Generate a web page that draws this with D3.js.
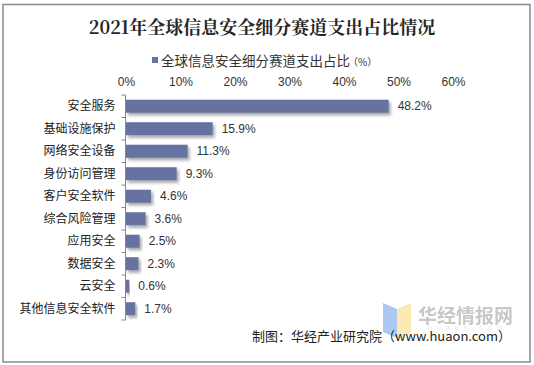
<!DOCTYPE html>
<html><head><meta charset="utf-8">
<script src="https://cdn.jsdelivr.net/npm/d3@7"></script>
<style>body{margin:0;background:#fff;}svg{display:block;}</style>
</head><body>
<script>
const categories = ["安全服务","基础设施保护","网络安全设备","身份访问管理","客户安全软件","综合风险管理","应用安全","数据安全","云安全","其他信息安全软件"];
const values = [48.2,15.9,11.3,9.3,4.6,3.6,2.5,2.3,0.6,1.7];
const tickValues = [0,10,20,30,40,50,60];
const titleText = "2021年全球信息安全细分赛道支出占比情况";
const legendText = "全球信息安全细分赛道支出占比";
const sourceText = "制图：华经产业研究院（www.huaon.com）";

const W = 534, H = 365;
const svg = d3.select("body").append("svg").attr("width", W).attr("height", H);
const defs = svg.append("defs");
const f = defs.append("filter").attr("id","sh").attr("x","-10%").attr("y","-30%").attr("width","130%").attr("height","190%");
f.append("feDropShadow").attr("dx",2).attr("dy",2.5).attr("stdDeviation",1.6).attr("flood-color","#000").attr("flood-opacity",0.35);

svg.append("rect").attr("x",3).attr("y",4.5).attr("width",527).attr("height",357.5)
  .attr("fill","#fff").attr("stroke","#8a8a8a").attr("stroke-width",1.5);

svg.append("text").attr("x",262).attr("y",34).attr("text-anchor","middle")
  .attr("font-family","'Noto Serif CJK SC','DejaVu Serif','Noto Sans CJK SC',serif").attr("font-weight","bold")
  .attr("font-size",18).attr("fill","#262626").text(titleText);

// legend
svg.append("rect").attr("x",152).attr("y",57).attr("width",6).attr("height",6).attr("fill","#6673a0");
const lg = svg.append("text").attr("x",161).attr("y",66).attr("font-family","'Noto Sans CJK SC',sans-serif")
  .attr("font-size",13.5).attr("fill","#333");
lg.append("tspan").text(legendText);
lg.append("tspan").attr("font-size",10).attr("dx",-2).text("（%）");

const x = d3.scaleLinear().domain([0,60]).range([126,453]);
const y = d3.scaleBand().domain(categories).range([95,320]).paddingInner(0.42).paddingOuter(0.21);

// top axis labels
const xa = svg.append("g").attr("transform","translate(0,89)")
  .call(d3.axisTop(x).tickValues(tickValues).tickFormat(d=>d+"%").tickSize(0));
xa.select(".domain").remove();
xa.selectAll("text").attr("font-family","'Liberation Sans',Arial,sans-serif").attr("font-size",12).attr("fill","#333");

// bars
svg.append("g").selectAll("rect").data(values).join("rect")
  .attr("x",x(0)).attr("y",(d,i)=>y(categories[i]))
  .attr("width",d=>x(d)-x(0)).attr("height",y.bandwidth())
  .attr("fill","#6673a0").attr("filter","url(#sh)");

// y axis
const ya = svg.append("g").attr("transform",`translate(${x(0)-0.5},0)`)
  .call(d3.axisLeft(y).tickSize(0).tickPadding(10));
ya.select(".domain").attr("stroke","#888").attr("d",`M0,95V320`);
ya.selectAll("text").attr("font-family","'Noto Sans CJK SC',sans-serif").attr("font-size",12).attr("fill","#222");
const bounds = d3.range(categories.length+1).map(i=>95 + i*y.step());
ya.selectAll("line.b").data(bounds).join("line").attr("class","b")
  .attr("x1",-4).attr("x2",0).attr("y1",d=>d).attr("y2",d=>d).attr("stroke","#888");

// value labels
svg.append("g").selectAll("text").data(values).join("text")
  .attr("x",d=>x(d)+9).attr("y",(d,i)=>y(categories[i])+y.bandwidth()/2).attr("dy","0.35em")
  .attr("font-family","'Liberation Sans',Arial,sans-serif").attr("font-size",12).attr("fill","#333")
  .text(d=>d.toFixed(1)+"%");

// watermark logo
const wm = svg.append("g").attr("opacity",0.75);
wm.append("path").attr("d","M383,303 L397,309 L397,338 L383,332 Z").attr("fill","#8fb6ee");
wm.append("path").attr("d","M397,309 L411,303 L411,332 L397,338 Z").attr("fill","#fbe39a");
wm.append("text").attr("x",418).attr("y",323).attr("font-family","'Noto Sans CJK SC',sans-serif").attr("font-weight","bold")
  .attr("font-size",19).attr("fill","#b5b5b5").text("华经情报网");
wm.append("text").attr("x",428).attr("y",330).attr("font-family","'Liberation Sans',sans-serif")
  .attr("font-size",7).attr("letter-spacing",5).attr("fill","#dcdcdc").text("huaon.com");

svg.append("text").attr("x",511).attr("y",341).attr("text-anchor","end")
  .attr("font-family","'Noto Sans CJK SC',sans-serif").attr("font-size",13).attr("fill","#222").text(sourceText);
</script>
</body></html>
